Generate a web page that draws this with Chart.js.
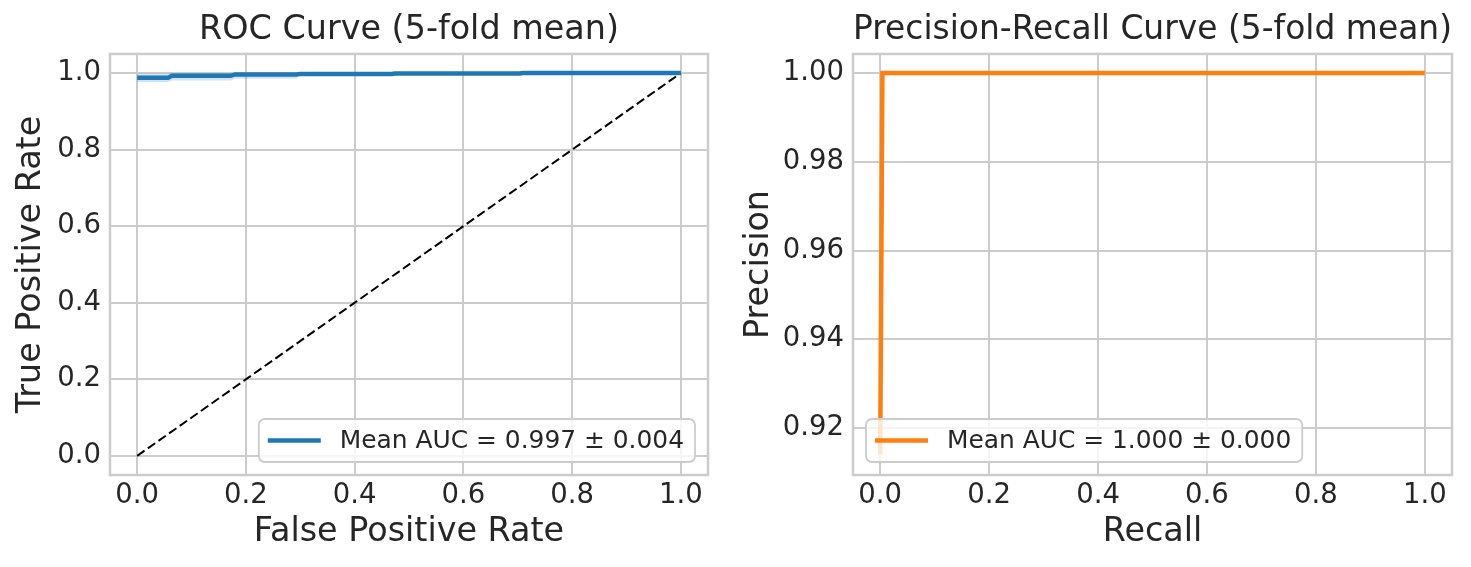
<!DOCTYPE html>
<html>
<head>
<meta charset="utf-8">
<script src="https://cdn.jsdelivr.net/npm/chart.js@4/dist/chart.umd.min.js"></script>
<style>
  html, body { margin: 0; padding: 0; background: #ffffff; }
  #wrap { position: relative; width: 1471px; height: 567px; }
  .panel { position: absolute; top: 0; height: 567px; }
</style>
</head>
<body>
<div id="wrap">
  <div class="panel" style="left:0;width:735px"><canvas id="roc" width="735" height="567"></canvas></div>
  <div class="panel" style="left:735px;width:736px"><canvas id="pr" width="736" height="567"></canvas></div>
</div>
<script>
// ---- ROC data (5-fold mean) ----
const rocFpr   = [0, 0.057, 0.064, 0.172, 0.18, 0.293, 0.3, 0.468, 0.475, 0.703, 0.71, 1.0];
const rocTpr   = [0.988, 0.988, 0.993, 0.993, 0.9965, 0.9965, 0.998, 0.998, 0.999, 0.999, 1.0, 1.0];
const rocLower = [0.977, 0.977, 0.981, 0.981, 0.985, 0.985, 0.994, 0.994, 0.996, 0.996, 1.0, 1.0];
const rocUpper = [0.999, 0.999, 1.0, 1.0, 1.0, 1.0, 1.0, 1.0, 1.0, 1.0, 1.0, 1.0];
const chanceX  = [0, 1];
const chanceY  = [0, 1];
const rocLabel = 'Mean AUC = 0.997 ± 0.004';

// ---- Precision-Recall data (5-fold mean) ----
const prRecall    = [0, 0.004, 1.0];
const prPrecision = [0.914, 1.0, 1.0];
const prLabel = 'Mean AUC = 1.000 ± 0.000';

// ---- ticks ----
const rocXTicks = [0, 0.2, 0.4, 0.6, 0.8, 1.0];
const rocXTickLabels = ['0.0', '0.2', '0.4', '0.6', '0.8', '1.0'];
const rocYTicks = [0, 0.2, 0.4, 0.6, 0.8, 1.0];
const rocYTickLabels = ['0.0', '0.2', '0.4', '0.6', '0.8', '1.0'];
const prXTicks = [0, 0.2, 0.4, 0.6, 0.8, 1.0];
const prXTickLabels = ['0.0', '0.2', '0.4', '0.6', '0.8', '1.0'];
const prYTicks = [0.92, 0.94, 0.96, 0.98, 1.00];
const prYTickLabels = ['0.92', '0.94', '0.96', '0.98', '1.00'];

const FONT = '"DejaVu Sans", "Liberation Sans", sans-serif';
const TXT = '#262626';
const GRID = '#cccccc';

const pts = (xs, ys) => xs.map((x, i) => ({ x: x, y: ys[i] }));

const framePlugin = {
  id: 'frame',
  afterDatasetsDraw(chart) {
    const { ctx, chartArea: a } = chart;
    ctx.save();
    ctx.strokeStyle = GRID;
    ctx.lineWidth = 2.5;
    ctx.strokeRect(a.left, a.top, a.right - a.left, a.bottom - a.top);
    ctx.restore();
  }
};

const legendPlugin = {
  id: 'legendBox',
  afterDatasetsDraw(chart, args, o) {
    const { ctx, chartArea: a } = chart;
    const ds = chart.data.datasets[o.datasetIndex];
    ctx.save();
    ctx.font = o.fontSize + 'px ' + FONT;
    const tw = ctx.measureText(ds.label).width;
    const w = o.padLeft + o.handle + o.gap + tw + o.padRight;
    const h = o.height;
    const x = o.corner === 'right' ? a.right - o.offsetX - w : a.left + o.offsetX;
    const y = a.bottom - o.offsetY - h;
    const r = 6;
    ctx.beginPath();
    ctx.moveTo(x + r, y);
    ctx.lineTo(x + w - r, y);
    ctx.arcTo(x + w, y, x + w, y + r, r);
    ctx.lineTo(x + w, y + h - r);
    ctx.arcTo(x + w, y + h, x + w - r, y + h, r);
    ctx.lineTo(x + r, y + h);
    ctx.arcTo(x, y + h, x, y + h - r, r);
    ctx.lineTo(x, y + r);
    ctx.arcTo(x, y, x + r, y, r);
    ctx.closePath();
    ctx.fillStyle = 'rgba(255,255,255,0.8)';
    ctx.fill();
    ctx.strokeStyle = GRID;
    ctx.lineWidth = 1.8;
    ctx.stroke();
    const cy = y + h / 2;
    ctx.beginPath();
    ctx.strokeStyle = ds.borderColor;
    ctx.lineWidth = ds.borderWidth;
    ctx.lineCap = 'butt';
    ctx.moveTo(x + o.padLeft, cy);
    ctx.lineTo(x + o.padLeft + o.handle, cy);
    ctx.stroke();
    ctx.fillStyle = TXT;
    ctx.textBaseline = 'middle';
    ctx.textAlign = 'left';
    ctx.fillText(ds.label, x + o.padLeft + o.handle + o.gap, cy + 1);
    ctx.restore();
  }
};

function axisX(min, max, ticks, labels, title, height) {
  return {
    type: 'linear', position: 'bottom', min: min, max: max,
    afterBuildTicks: s => { s.ticks = ticks.map(v => ({ value: v })); },
    afterFit: s => { s.height = height; },
    ticks: {
      autoSkip: false, maxRotation: 0, padding: 4, color: TXT,
      font: { family: FONT, size: 27.5 },
      callback: (v, i) => labels[i]
    },
    grid: { color: GRID, lineWidth: 2, drawTicks: false },
    border: { display: false },
    title: { display: true, text: title, color: TXT, font: { family: FONT, size: 33.4 }, padding: { top: 0, bottom: 15 } }
  };
}
function axisY(min, max, ticks, labels, title, width, titlePad) {
  return {
    type: 'linear', position: 'left', min: min, max: max,
    afterBuildTicks: s => { s.ticks = ticks.map(v => ({ value: v })); },
    afterFit: s => { s.width = width; },
    ticks: {
      autoSkip: false, padding: 9, color: TXT,
      font: { family: FONT, size: 27.5 },
      callback: (v, i) => labels[i]
    },
    grid: { color: GRID, lineWidth: 2, drawTicks: false },
    border: { display: false },
    title: { display: true, text: title, color: TXT, font: { family: FONT, size: 33.4 }, padding: { top: titlePad, bottom: 0 } }
  };
}
function titleOpts(text) {
  return {
    display: true, text: text, color: TXT, fullSize: false,
    font: { family: FONT, size: 33.4, weight: 'normal' },
    padding: { top: 10, bottom: 3.9 }
  };
}

new Chart(document.getElementById('roc'), {
  type: 'line',
  data: {
    datasets: [
      { label: rocLabel, data: pts(rocFpr, rocTpr), borderColor: '#1f77b4', borderWidth: 4.5, pointRadius: 0, tension: 0, fill: false },
      { label: 'upper', data: pts(rocFpr, rocUpper), borderWidth: 0, borderColor: 'rgba(0,0,0,0)', pointRadius: 0, tension: 0, fill: '+1', backgroundColor: 'rgba(31,119,180,0.2)' },
      { label: 'lower', data: pts(rocFpr, rocLower), borderWidth: 0, borderColor: 'rgba(0,0,0,0)', pointRadius: 0, tension: 0, fill: false },
      { label: 'chance', data: pts(chanceX, chanceY), borderColor: '#000000', borderWidth: 2, borderDash: [9, 4], pointRadius: 0, tension: 0, fill: false }
    ]
  },
  options: {
    responsive: false, animation: false,
    layout: { padding: { left: 0, right: 27, top: 0, bottom: 0 } },
    scales: {
      x: axisX(-0.05, 1.05, rocXTicks, rocXTickLabels, 'False Positive Rate', 92),
      y: axisY(-0.05, 1.05, rocYTicks, rocYTickLabels, 'True Positive Rate', 110, 11)
    },
    plugins: {
      legend: { display: false },
      tooltip: { enabled: false },
      title: titleOpts('ROC Curve (5-fold mean)'),
      legendBox: { datasetIndex: 0, corner: 'right', offsetX: 13, offsetY: 13, height: 43, padLeft: 9, handle: 53, gap: 19, padRight: 11, fontSize: 24.9 }
    }
  },
  plugins: [framePlugin, legendPlugin]
});

new Chart(document.getElementById('pr'), {
  type: 'line',
  data: {
    datasets: [
      { label: prLabel, data: pts(prRecall, prPrecision), borderColor: '#ff7f0e', borderWidth: 4.5, pointRadius: 0, tension: 0, fill: false }
    ]
  },
  options: {
    responsive: false, animation: false,
    layout: { padding: { left: 0, right: 19, top: 0, bottom: 0 } },
    scales: {
      x: axisX(-0.05, 1.05, prXTicks, prXTickLabels, 'Recall', 92),
      y: axisY(0.9094, 1.0043, prYTicks, prYTickLabels, 'Precision', 118, 4)
    },
    plugins: {
      legend: { display: false },
      tooltip: { enabled: false },
      title: titleOpts('Precision-Recall Curve (5-fold mean)'),
      legendBox: { datasetIndex: 0, corner: 'left', offsetX: 13, offsetY: 13, height: 43, padLeft: 9, handle: 53, gap: 19, padRight: 11, fontSize: 24.9 }
    }
  },
  plugins: [framePlugin, legendPlugin]
});
</script>
</body>
</html>
